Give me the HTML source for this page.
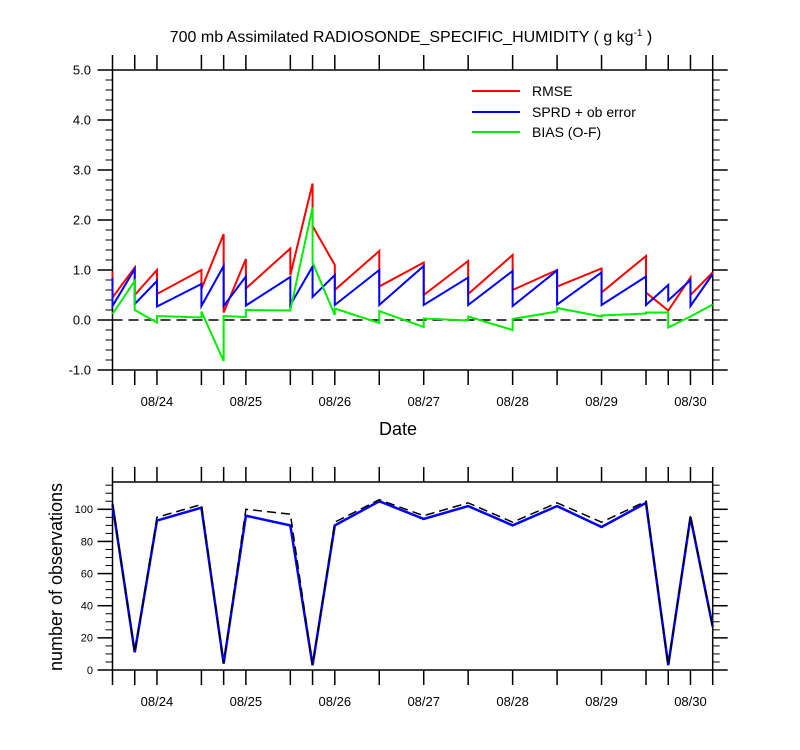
<!DOCTYPE html>
<html><head><meta charset="utf-8"><style>
body{margin:0;background:#fff}
svg{display:block;font-family:"Liberation Sans",Arial,sans-serif}
</style></head><body>
<svg id="c" width="800" height="750" xmlns="http://www.w3.org/2000/svg">
<text x="411" y="42" font-size="16" text-anchor="middle">700 mb Assimilated RADIOSONDE_SPECIFIC_HUMIDITY ( g kg<tspan dy="-6" font-size="10">-1</tspan><tspan dy="6"> )</tspan></text>
<text x="398" y="435" font-size="18" text-anchor="middle">Date</text>
<text transform="translate(62,577) rotate(-90)" font-size="18" text-anchor="middle">number of observations</text>
<g>
<line x1="472" y1="91" x2="520" y2="91" stroke="#f00" stroke-width="2"/><text x="532" y="96" font-size="14">RMSE</text>
<line x1="472" y1="112" x2="520" y2="112" stroke="#00f" stroke-width="2"/><text x="532" y="117" font-size="14">SPRD + ob error</text>
<line x1="472" y1="132" x2="520" y2="132" stroke="#0e0" stroke-width="2"/><text x="532" y="137" font-size="14">BIAS (O-F)</text>
</g>
</svg>
<script>
const times=[0,6,12,24,30,36,48,54,60,72,84,96,108,120,132,144,150,156,162];
const rmseA=[0.97,1.05,1.0,1.0,1.72,1.22,1.43,2.73,1.1,1.38,1.15,1.18,1.3,1.0,1.03,1.28,0.19,0.85,0.95];
const rmseB=[0.45,0.5,0.52,0.62,0.15,0.63,0.9,1.88,0.6,0.67,0.5,0.52,0.6,0.67,0.55,0.55,0.19,0.5,0.95];
const sprdA=[0.85,1.02,0.78,0.72,1.08,0.87,0.86,1.07,0.9,1.0,1.08,0.85,0.98,0.99,0.95,0.87,0.7,0.8,0.92];
const sprdB=[0.28,0.32,0.27,0.28,0.28,0.29,0.3,0.46,0.3,0.3,0.3,0.3,0.28,0.31,0.3,0.3,0.39,0.28,0.92];
const biasA=[0.12,0.78,-0.05,0.05,-0.82,0.06,0.19,2.25,0.1,-0.06,-0.14,-0.01,-0.2,0.17,0.07,0.13,0.15,0.07,0.31];
const biasB=[0.12,0.2,0.08,0.17,0.08,0.2,0.2,1.15,0.23,0.18,0.03,0.07,0.02,0.24,0.09,0.15,-0.15,0.07,0.31];
const obsUsed=[103,11,93,101,4,96,90,3,90,105,94,102,90,102,89,104,3,95,27];
const obsTotal=[104,11,95,103,4,100,97,3,92,106,96,104,92,104,92,105,3,96,27];
const dateLabels=["08/24","08/25","08/26","08/27","08/28","08/29","08/30"];
const dateHours=[12,36,60,84,108,132,156];
const yTopTicks=[5.0,4.0,3.0,2.0,1.0,0.0,-1.0];
const yBotTicks=[0,20,40,60,80,100];

const NS="http://www.w3.org/2000/svg",svg=document.getElementById('c');
const X0=112.5,X1=712.7,T0=0,T1=162;
const x=t=>X0+(t-T0)/(T1-T0)*(X1-X0);
const yT=v=>320-v*50;
const yB=v=>670-v*1.607;
function el(tag,a,p){const e=document.createElementNS(NS,tag);for(const k in a)e.setAttribute(k,a[k]);(p||svg).appendChild(e);return e;}
function axes(top,bot,name,yf,majors,minStep,minLo,minHi,fmt,fs,lx){
 const g=el('g',{});
 
 
 el('rect',{x:X0,y:top,width:X1-X0,height:bot-top,fill:'none',stroke:'#000','stroke-width':1.5},g);
 times.forEach(t=>{el('line',{x1:x(t),y1:top,x2:x(t),y2:top-15,stroke:'#000','stroke-width':1.5},g);el('line',{x1:x(t),y1:bot,x2:x(t),y2:bot+15,stroke:'#000','stroke-width':1.5},g);});
 for(let v=minLo;v<=minHi+1e-6;v+=minStep){const yy=yf(v);el('line',{x1:X0,y1:yy,x2:X0-7,y2:yy,stroke:'#000'},g);el('line',{x1:X1,y1:yy,x2:X1+7,y2:yy,stroke:'#000'},g);}
 majors.forEach(v=>{const yy=yf(v);el('line',{x1:X0,y1:yy,x2:X0-15,y2:yy,stroke:'#000','stroke-width':1.5},g);el('line',{x1:X1,y1:yy,x2:X1+15,y2:yy,stroke:'#000','stroke-width':1.5},g);
  const tx=el('text',{x:lx,y:yy+fs*0.35,'font-size':fs,'text-anchor':'end'},g);tx.textContent=fmt(v);});
 dateHours.forEach((h,i)=>{const tx=el('text',{x:x(h),y:bot+36,'font-size':13,'text-anchor':'middle'},g);tx.textContent=dateLabels[i];});
}
axes(70,370,'top-axes',yT,yTopTicks,0.2,-1,5,v=>v.toFixed(1),13,91);
axes(482,670,'bottom-axes',yB,yBotTicks,5,0,115,v=>String(v),11,93);
const zl=el('line',{x1:X0,y1:yT(0),x2:X1,y2:yT(0),stroke:'#000','stroke-width':1.5,'stroke-dasharray':'10,6'});


function saw(A,B){let p=[];times.forEach((t,i)=>{p.push(x(t)+','+yT(A[i]));p.push(x(t)+','+yT(B[i]));});return p.join(' ');}
const s1=el('polyline',{points:saw(rmseA,rmseB),fill:'none',stroke:'#f00','stroke-width':2});


const s2=el('polyline',{points:saw(sprdA,sprdB),fill:'none',stroke:'#00f','stroke-width':2});


const s3=el('polyline',{points:saw(biasA,biasB),fill:'none',stroke:'#0e0','stroke-width':2});


const s4=el('polyline',{points:times.map((t,i)=>x(t)+','+yB(obsUsed[i])).join(' '),fill:'none',stroke:'#00f','stroke-width':2.5});


const s5=el('polyline',{points:times.map((t,i)=>x(t)+','+yB(obsTotal[i])).join(' '),fill:'none',stroke:'#000','stroke-width':1.5,'stroke-dasharray':'9,5'});


</script>
</body></html>
